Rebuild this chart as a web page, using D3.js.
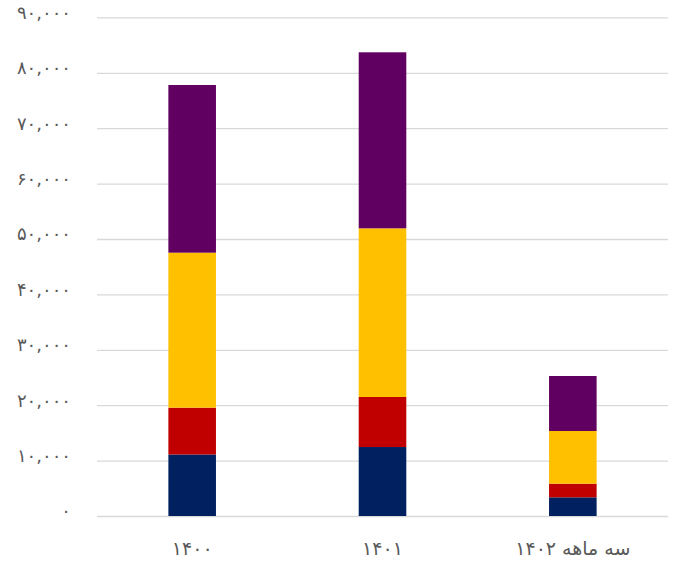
<!DOCTYPE html>
<html>
<head>
<meta charset="utf-8">
<script src="https://cdn.jsdelivr.net/npm/d3@7"></script>
<style>
  html, body { margin: 0; padding: 0; background: #fff; }
  svg { display: block; }
  text { font-family: "DejaVu Sans", "Noto Sans", sans-serif; fill: #595959; }
</style>
</head>
<body>
<svg id="chart" width="673" height="562"></svg>
<script>
// ---- data ----
const categories = ["۱۴۰۰", "۱۴۰۱", "سه ماهه ۱۴۰۲"];
const seriesNames = ["s1", "s2", "s3", "s4"];
const series1 = [11100, 12450, 3370];   // navy
const series2 = [8450, 9030, 2460];     // red
const series3 = [27980, 30450, 9510];   // orange
const series4 = [30270, 31770, 9930];   // purple
const yTickValues = [0, 10000, 20000, 30000, 40000, 50000, 60000, 70000, 80000, 90000];
const yTickLabels = ["۰", "۱۰,۰۰۰", "۲۰,۰۰۰", "۳۰,۰۰۰", "۴۰,۰۰۰", "۵۰,۰۰۰", "۶۰,۰۰۰", "۷۰,۰۰۰", "۸۰,۰۰۰", "۹۰,۰۰۰"];
const colors = ["#002060", "#C00000", "#FFC000", "#600060"];

// ---- build ----
const rows = categories.map((c, i) => ({
  cat: c, s1: series1[i], s2: series2[i], s3: series3[i], s4: series4[i]
}));
const stacked = d3.stack().keys(seriesNames)(rows);

const svg = d3.select("#chart");
const mLeft = 97, mRight = 668, mTop = 17.4, mBottom = 516;

const x = d3.scaleBand().domain(categories).range([mLeft, mRight])
  .paddingInner(0.75).paddingOuter(0.375);
const y = d3.scaleLinear().domain([0, 90000]).range([mBottom, mTop]);

// gridlines
const yAxis = d3.axisLeft(y).tickValues(yTickValues)
  .tickSize(-(mRight - mLeft))
  .tickFormat((d, i) => yTickLabels[i]);
const gy = svg.append("g").attr("transform", `translate(${mLeft},0)`).call(yAxis);
gy.select(".domain").remove();
gy.selectAll(".tick line").attr("stroke", "#d9d9d9").attr("stroke-width", 1.3);
gy.selectAll(".tick text")
  .attr("x", -26)
  .attr("dy", "0.05em")
  .style("font-size", "18px")
  .attr("fill", "#595959");

// bars
svg.append("g").selectAll("g").data(stacked).join("g")
  .attr("fill", (d, i) => colors[i])
  .selectAll("rect").data(d => d).join("rect")
  .attr("x", d => x(d.data.cat))
  .attr("width", x.bandwidth())
  .attr("y", d => y(d[1]))
  .attr("height", d => y(d[0]) - y(d[1]));

// x labels
const xAxis = d3.axisBottom(x).tickSize(0).tickPadding(0);
const gx = svg.append("g").attr("transform", `translate(0,${mBottom})`).call(xAxis);
gx.select(".domain").remove();
gx.selectAll(".tick text")
  .attr("y", 39)
  .attr("dy", 0)
  .style("font-size", "19px")
  .attr("fill", "#595959");
</script>
</body>
</html>
